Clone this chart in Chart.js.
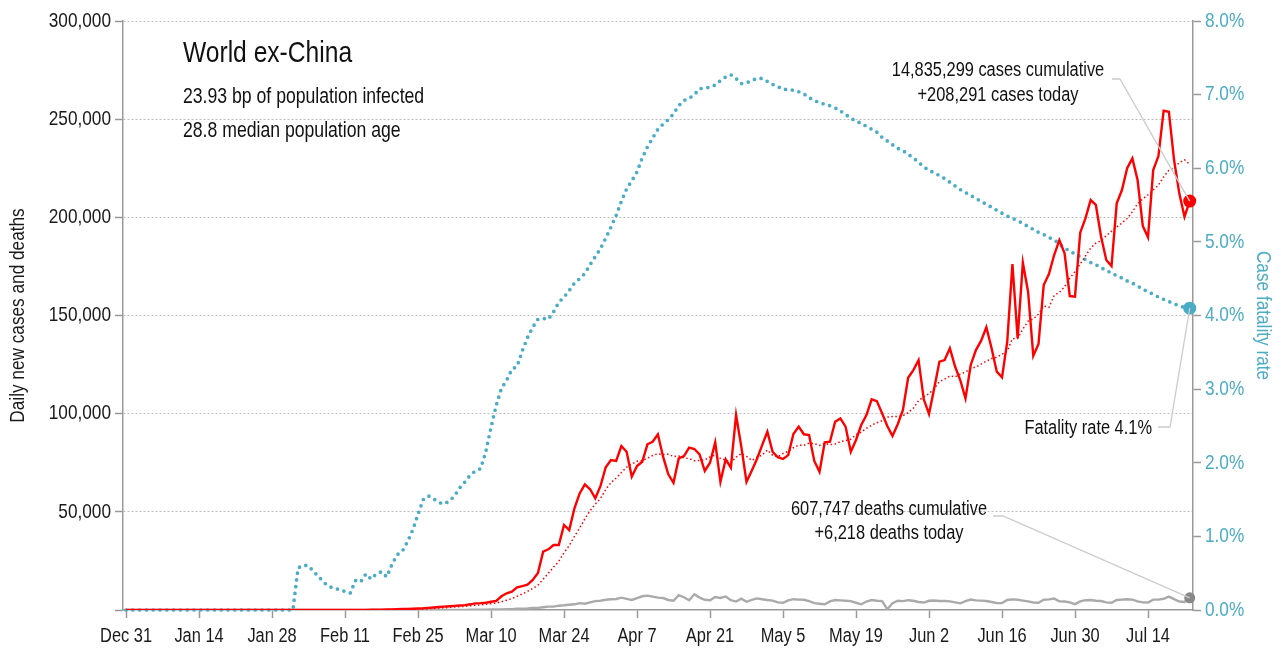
<!DOCTYPE html>
<html>
<head>
<meta charset="utf-8">
<script src="https://cdn.jsdelivr.net/npm/chart.js@4.4.1/dist/chart.umd.min.js"></script>
<style>
  html, body { margin: 0; padding: 0; background: #fff; }
  #wrap { width: 1281px; height: 652px; }
</style>
</head>
<body>
<div id="wrap"><canvas id="chart" width="1281" height="652"></canvas></div>
<script>
// day 0 = Dec 31; one value per day up to Jul 22
var dailyCases = [
  0,0,0,0,0,0,0,0,0,0, 0,0,0,1,0,0,1,0,0,0,
  1,2,3,5,8,10,12,14,16,20,
  25,18,22,30,25,28,32,30,40,45,
  60,40,50,55,45,60,80,90,120,150,
  250,300,400,500,550,650,800,900,1100,1300,
  1500,1700,1900,2100,2300,2500,2900,3400,3500,3700,
  4200,4600,7000,8500,9300,11500,12200,12900,15300,18800,
  29700,30900,33100,33100,43300,40700,51800,59400,64000,61500,
  56900,63200,72700,76400,75900,83500,80600,67900,73300,75500,
  84400,85700,89500,78100,69100,64800,77200,78400,82700,82000,
  79300,70800,75000,85400,65300,76700,72500,99300,83200,65300,
  70900,76900,84000,90800,80600,77800,76900,78900,89600,93400,
  89500,89100,75900,70400,85400,85700,95900,97600,93400,80600,
  86600,94200,99300,107300,106400,100200,93700,88600,94600,101900,
  118300,122200,127300,107300,99800,112900,126500,127300,133300,124000,
  117000,107800,124800,132400,137200,144000,133300,121400,118500,136600,
  176200,138400,176900,162100,129400,135500,165500,171100,180800,188400,
  181700,159900,159600,192200,199500,208800,206300,190100,178300,175200,
  207100,213900,225000,230000,219000,195600,189800,224100,231200,254300,
  253800,229200,212200,200300,208291
];

var casesAvg7 = [
  0,0,0,0,0,0,0,0,0,0, 0,0,0,0,0,0,0,0,0,0,
  0,1,1,2,3,4,6,8,10,12,
  15,16,18,21,22,24,26,26,30,33,
  37,39,42,46,48,51,56,60,71,86,
  114,150,199,259,324,400,493,586,700,829,
  971,1136,1314,1500,1700,1900,2129,2400,2657,2914,
  3214,3543,4186,4986,5829,6971,8186,9429,10957,12643,
  15671,18757,21843,24829,29171,32800,37514,41757,46486,50543,
  53943,56786,61357,64871,67229,70014,72743,74314,75757,76157,
  77300,78700,79557,79200,79371,78157,78400,77543,77114,76043,
  76214,76457,77914,79086,77214,76357,75000,77857,79629,78243,
  76171,77829,78871,81486,78814,78043,79700,80843,82657,84000,
  83814,85029,84757,83829,84757,84200,84557,85714,86329,87000,
  89314,90571,92514,94143,95400,96371,98243,98529,98586,98957,
  100529,102786,106657,108600,110200,112814,116329,117614,119200,118729,
  120114,121257,122957,123800,125214,126743,128071,128700,130229,131914,
  138171,138343,143043,147157,148300,150729,154857,154129,160186,161829,
  164629,168986,172429,176243,180300,184300,186857,188057,190686,192914,
  195043,197100,199414,202800,206929,209400,211486,213914,216386,220571,
  223971,225429,227800,229300,227043
];

var dailyDeaths = [
  0,0,0,0,0,0,0,0,0,0, 0,0,0,0,0,0,0,0,0,0,
  0,0,0,0,0,0,0,0,0,0, 0,0,0,1,0,0,0,0,0,0,
  0,0,0,0,1,1,0,0,0,0,
  2,2,4,5,6,9,11,13,14,17,
  22,27,35,40,55,60,100,110,140,190,
  230,250,300,400,450,600,700,800,1000,1100,
  1400,1700,1700,2200,2400,2700,2900,3500,3200,3900,
  4500,4700,5200,5500,5600,6300,5700,5100,6100,7000,
  7300,6800,6300,6100,5100,4700,7500,6500,5000,8000,
  6300,5200,5000,6600,6100,6900,5000,4300,5800,4200,
  5200,5900,5500,5100,4800,3900,3700,4900,5500,5300,
  5200,4500,3500,3200,2900,4400,5100,4900,4700,4500,
  3700,2900,4300,5100,4700,4500,400,3500,4700,4500,
  5000,4700,4100,3800,4700,4800,4600,4600,4400,3900,
  3400,4500,5300,4900,4800,4600,4100,3600,3500,5100,
  5400,5200,4800,4400,3800,3700,5200,5400,5800,4400,
  4300,3900,3000,4400,5000,5100,4700,4600,3900,3700,
  5100,5300,5500,5300,4400,3900,3800,5300,5300,5700,
  6800,5500,4300,4100,6218
];

// case fatality rate, percent
var fatalityRate = [
  0,0,0,0,0,0,0,0,0,0, 0,0,0,0,0,0,0,0,0,0,
  0,0,0,0,0,0,0,0,0,0, 0,0,0,
  0.57,0.61,0.60,0.52,0.45,0.37,0.32,
  0.29,0.28,0.25,0.23,0.40,0.38,0.49,0.42,0.49,0.52,
  0.45,0.62,0.75,0.80,0.93,1.09,1.30,1.50,1.55,1.51,
  1.46,1.44,1.48,1.55,1.66,1.74,1.83,1.89,1.92,2.15,
  2.48,2.78,3.01,3.12,3.27,3.31,3.52,3.70,3.84,3.95,
  3.96,3.95,4.05,4.18,4.25,4.34,4.44,4.50,4.57,4.69,
  4.80,4.91,5.05,5.20,5.36,5.55,5.72,5.83,5.95,6.14,
  6.29,6.41,6.53,6.60,6.66,6.74,6.85,6.92,6.95,7.00,
  7.08,7.09,7.10,7.13,7.19,7.24,7.27,7.22,7.15,7.16,
  7.19,7.22,7.22,7.18,7.14,7.11,7.07,7.07,7.06,7.04,
  7.01,6.96,6.92,6.89,6.87,6.85,6.82,6.78,6.73,6.68,
  6.64,6.61,6.57,6.53,6.49,6.42,6.37,6.32,6.27,6.24,
  6.19,6.14,6.08,6.02,5.97,5.94,5.90,5.86,5.81,5.76,
  5.71,5.67,5.63,5.59,5.55,5.51,5.47,5.43,5.39,5.35,
  5.32,5.29,5.25,5.21,5.17,5.13,5.10,5.06,5.03,4.97,
  4.92,4.87,4.84,4.80,4.76,4.72,4.69,4.65,4.61,4.58,
  4.54,4.51,4.47,4.44,4.40,4.36,4.32,4.29,4.25,4.22,
  4.19,4.16,4.13,4.11,4.10
];

var tickDays = [0,14,28,42,56,70,84,98,112,126,140,154,168,182,196];
var tickLabels = ['Dec 31','Jan 14','Jan 28','Feb 11','Feb 25','Mar 10','Mar 24','Apr 7',
                  'Apr 21','May 5','May 19','Jun 2','Jun 16','Jun 30','Jul 14'];

var titleText = 'World ex-China';
var subtitleLines = ['23.93 bp of population infected', '28.8 median population age'];
var casesNote = ['14,835,299 cases cumulative', '+208,291 cases today'];
var deathsNote = ['607,747 deaths cumulative', '+6,218 deaths today'];
var rateNote = 'Fatality rate 4.1%';

var FONT = "'Liberation Sans', Arial, sans-serif";
var BLUE = '#4bacc6';
var RED = '#ff0000';

var days = dailyCases.map(function(v, i) { return i; });

// no narrow face is installed, so squeeze every text run horizontally
var canvas = document.getElementById('chart');
var ctx2d = canvas.getContext('2d');
var rawFill = ctx2d.fillText;
ctx2d.fillText = function(text, x, y) {
  this.save();
  this.translate(x, y);
  this.scale(0.82, 1);
  rawFill.call(this, text, 0, 0);
  this.restore();
};

// let the end markers spill past the right edge, but not the lines below zero
var markerClip = { left: 0, top: 0, right: 10, bottom: 0 };

function lastOnly(r) {
  return function(c) { return c.dataIndex === c.dataset.data.length - 1 ? r : 0; };
}

function lastPoint(chart, idx) {
  var pts = chart.getDatasetMeta(idx).data;
  return pts[pts.length - 1];
}

function connector(ctx, x0, y0, x1, pt) {
  ctx.beginPath();
  ctx.moveTo(x0, y0);
  ctx.lineTo(x1, y0);
  ctx.lineTo(pt.x, pt.y);
  ctx.stroke();
}

var notes = {
  id: 'notes',
  afterDatasetsDraw: function(chart) {
    var ctx = chart.ctx;
    ctx.save();
    ctx.strokeStyle = '#cccccc';
    ctx.lineWidth = 1.3;
    connector(ctx, 1112, 79, 1120, lastPoint(chart, 0));
    connector(ctx, 1158, 427, 1170, lastPoint(chart, 3));
    connector(ctx, 993, 516, 1003, lastPoint(chart, 2));
    ctx.restore();
  },
  afterDraw: function(chart) {
    var ctx = chart.ctx;
    ctx.save();
    ctx.fillStyle = '#111';
    ctx.textBaseline = 'alphabetic';
    ctx.textAlign = 'left';
    ctx.font = '30px ' + FONT;
    ctx.fillText(titleText, 183, 62);
    ctx.font = '21.5px ' + FONT;
    ctx.fillText(subtitleLines[0], 183, 103);
    ctx.fillText(subtitleLines[1], 183, 137);

    ctx.font = '20px ' + FONT;
    ctx.textAlign = 'center';
    ctx.fillText(casesNote[0], 998, 76);
    ctx.fillText(casesNote[1], 998, 101);
    ctx.fillText(deathsNote[0], 889, 515);
    ctx.fillText(deathsNote[1], 889, 539);
    ctx.textAlign = 'right';
    ctx.fillText(rateNote, 1152, 434);
    ctx.restore();
  }
};

Chart.defaults.font.family = FONT;
Chart.defaults.font.size = 21;
Chart.defaults.color = '#1a1a1a';

new Chart(canvas, {
  type: 'line',
  data: {
    labels: days,
    datasets: [
      { label: 'Daily new cases', data: dailyCases, yAxisID: 'y', order: 1, clip: markerClip,
        borderColor: RED, borderWidth: 2.4, tension: 0,
        pointRadius: lastOnly(6.5), pointBackgroundColor: RED, pointBorderWidth: 0 },
      { label: 'Cases, 7-day average', data: casesAvg7, yAxisID: 'y', order: 2,
        borderColor: RED, borderWidth: 1.5, borderDash: [1.5, 2.5], tension: 0, pointRadius: 0 },
      { label: 'Daily deaths', data: dailyDeaths, yAxisID: 'y', order: 3, clip: markerClip,
        borderColor: '#aaaaaa', borderWidth: 2.4, tension: 0,
        pointRadius: lastOnly(5.5), pointBackgroundColor: '#888888', pointBorderWidth: 0 },
      { label: 'Case fatality rate', data: fatalityRate, yAxisID: 'y1', order: 4, clip: false,
        borderColor: BLUE, borderWidth: 3.7, borderDash: [0, 6.8], borderCapStyle: 'round', tension: 0,
        pointRadius: lastOnly(6.5), pointBackgroundColor: BLUE, pointBorderWidth: 0 }
    ]
  },
  options: {
    responsive: false,
    animation: false,
    devicePixelRatio: 1,
    layout: { padding: { top: 21, left: 0, right: 0, bottom: 0 } },
    plugins: { legend: { display: false }, tooltip: { enabled: false } },
    scales: {
      x: {
        type: 'linear', min: -0.58, max: 204.63, z: 1,
        afterBuildTicks: function(s) { s.ticks = tickDays.map(function(v) { return { value: v }; }); },
        ticks: { autoSkip: false, maxRotation: 0, padding: 6, color: '#1a1a1a', font: { size: 20 },
                 callback: function(v, i) { return tickLabels[i]; } },
        grid: { drawOnChartArea: false, tickLength: 8, tickColor: '#999', tickWidth: 1.5 },
        border: { color: '#999', width: 1.5 },
        afterFit: function(s) { s.height = 42; }
      },
      y: {
        position: 'left', min: 0, max: 300000,
        ticks: { stepSize: 50000, padding: 4, color: '#1a1a1a',
                 callback: function(v) { return v === 0 ? '' : v.toLocaleString('en-US'); } },
        grid: { color: function(c) { return c.tick && c.tick.value === 0 ? 'rgba(0,0,0,0)' : '#bbbbbb'; },
                lineWidth: 1, tickLength: 8, tickColor: '#999', tickWidth: 1.5 },
        border: { color: '#999', width: 1.5, dash: [2, 2] },
        title: { display: true, text: 'Daily new cases and deaths', color: '#1a1a1a', padding: { top: 6, bottom: 0 } },
        afterFit: function(s) { s.width = 123; }
      },
      y1: {
        position: 'right', min: 0, max: 8,
        ticks: { stepSize: 1, padding: 4, color: BLUE,
                 callback: function(v) { return v.toFixed(1) + '%'; } },
        grid: { drawOnChartArea: false, tickLength: 8, tickColor: '#999', tickWidth: 1.5 },
        border: { color: '#999', width: 1.5 },
        title: { display: true, text: 'Case fatality rate', color: BLUE, padding: { top: 6, bottom: 0 } },
        afterFit: function(s) { s.width = 88; }
      }
    }
  },
  plugins: [notes]
});
</script>
</body>
</html>
